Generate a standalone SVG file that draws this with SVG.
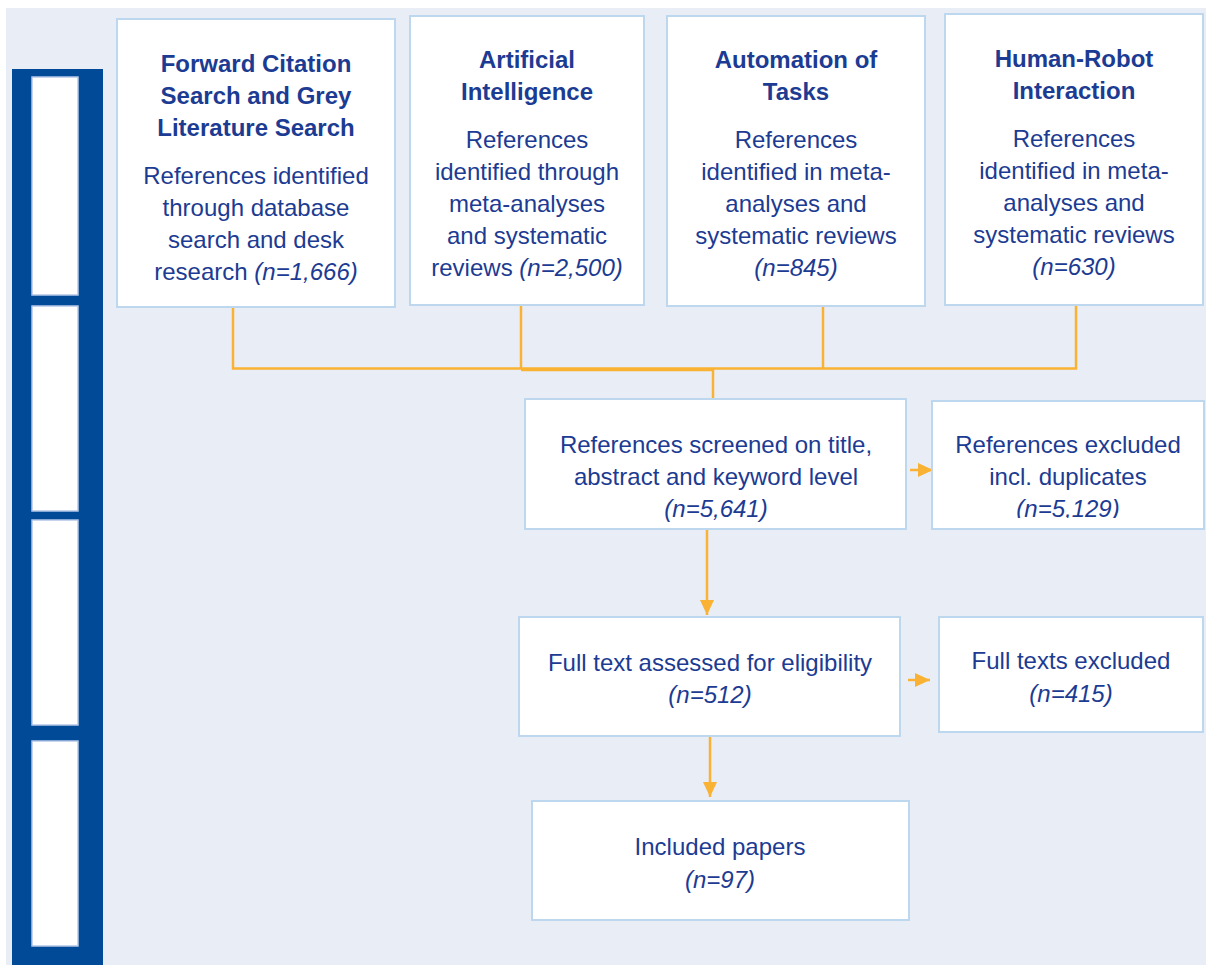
<svg xmlns="http://www.w3.org/2000/svg" width="1206" height="965" viewBox="0 0 1206 965">
<defs>
<style>
.bg{fill:#E9EDF6}
.box{fill:#FFFFFF;stroke:#BDD7EE;stroke-width:2}
.side{fill:#FFFFFF;stroke:#B4C7E7;stroke-width:1.5}
text{font-family:"Liberation Sans",Arial,sans-serif;font-size:24px;fill:#1C3B92;text-anchor:middle}
.t{font-weight:bold}
.i{font-style:italic}
.c{fill:none;stroke:#F9B233;stroke-width:2.5}
</style>
<marker id="ah" markerUnits="userSpaceOnUse" markerWidth="15" markerHeight="14" refX="15" refY="7" orient="auto" viewBox="0 0 15 14">
<path d="M0,0 L15,7 L0,14 z" fill="#F9B233"/>
</marker>
<clipPath id="clipEx"><rect x="932" y="401" width="274" height="117"/></clipPath>
</defs>
<rect class="bg" x="6" y="8" width="1200" height="957"/>
<g id="sidebar">
<rect x="12" y="69" width="91" height="896" fill="#004A98"/>
<rect class="side" x="32" y="77" width="46" height="218"/>
<rect class="side" x="32" y="306" width="46" height="205"/>
<rect class="side" x="32" y="520" width="46" height="205"/>
<rect class="side" x="32" y="741" width="46" height="205"/>
</g>
<g id="connectors">
<path class="c" d="M233,307 V368.5 H1076 V305"/>
<path class="c" d="M521,305 V368.5"/>
<path class="c" d="M823,306 V368.5"/>
<path class="c" d="M521,370 H713" stroke-width="3"/>
<path class="c" d="M713,368.5 V399"/>
<path class="c" d="M910,470 H933" stroke-width="1.5" marker-end="url(#ah)"/>
<path class="c" d="M707,529 V615" marker-end="url(#ah)"/>
<path class="c" d="M908,680 H930" stroke-width="1.5" marker-end="url(#ah)"/>
<path class="c" d="M710,736 V797" marker-end="url(#ah)"/>
</g>
<g id="node-forward">
<rect class="box" x="117" y="19" width="278" height="288"/>
<text x="256" y="72" class="t">Forward Citation</text>
<text x="256" y="104" class="t">Search and Grey</text>
<text x="256" y="136" class="t">Literature Search</text>
<text x="256" y="184">References identified</text>
<text x="256" y="216">through database</text>
<text x="256" y="248">search and desk</text>
<text x="256" y="280">research <tspan class="i">(n=1,666)</tspan></text>
</g>
<g id="node-ai">
<rect class="box" x="410" y="16" width="234" height="289"/>
<text x="527" y="68" class="t">Artificial</text>
<text x="527" y="100" class="t">Intelligence</text>
<text x="527" y="148">References</text>
<text x="527" y="180">identified through</text>
<text x="527" y="212">meta-analyses</text>
<text x="527" y="244">and systematic</text>
<text x="527" y="276">reviews <tspan class="i">(n=2,500)</tspan></text>
</g>
<g id="node-automation">
<rect class="box" x="667" y="16" width="258" height="290"/>
<text x="796" y="68" class="t">Automation of</text>
<text x="796" y="100" class="t">Tasks</text>
<text x="796" y="148">References</text>
<text x="796" y="180">identified in meta-</text>
<text x="796" y="212">analyses and</text>
<text x="796" y="244">systematic reviews</text>
<text x="796" y="276" class="i">(n=845)</text>
</g>
<g id="node-hri">
<rect class="box" x="945" y="14" width="258" height="291"/>
<text x="1074" y="67" class="t">Human-Robot</text>
<text x="1074" y="99" class="t">Interaction</text>
<text x="1074" y="147">References</text>
<text x="1074" y="179">identified in meta-</text>
<text x="1074" y="211">analyses and</text>
<text x="1074" y="243">systematic reviews</text>
<text x="1074" y="275" class="i">(n=630)</text>
</g>
<g id="node-screened">
<rect class="box" x="525" y="399" width="381" height="130"/>
<text x="716" y="453">References screened on title,</text>
<text x="716" y="485">abstract and keyword level</text>
<text x="716" y="517" class="i">(n=5,641)</text>
</g>
<g id="node-excluded">
<rect class="box" x="932" y="401" width="272" height="128"/>
<g clip-path="url(#clipEx)">
<text x="1068" y="453">References excluded</text>
<text x="1068" y="485">incl. duplicates</text>
<text x="1068" y="517" class="i">(n=5,129)</text>
</g>
</g>
<g id="node-fulltext">
<rect class="box" x="519" y="617" width="381" height="119"/>
<text x="710" y="671">Full text assessed for eligibility</text>
<text x="710" y="703" class="i">(n=512)</text>
</g>
<g id="node-fulltext-excluded">
<rect class="box" x="939" y="617" width="264" height="115"/>
<text x="1071" y="669">Full texts excluded</text>
<text x="1071" y="702" class="i">(n=415)</text>
</g>
<g id="node-included">
<rect class="box" x="532" y="801" width="377" height="119"/>
<text x="720" y="855">Included papers</text>
<text x="720" y="888" class="i">(n=97)</text>
</g>
</svg>
